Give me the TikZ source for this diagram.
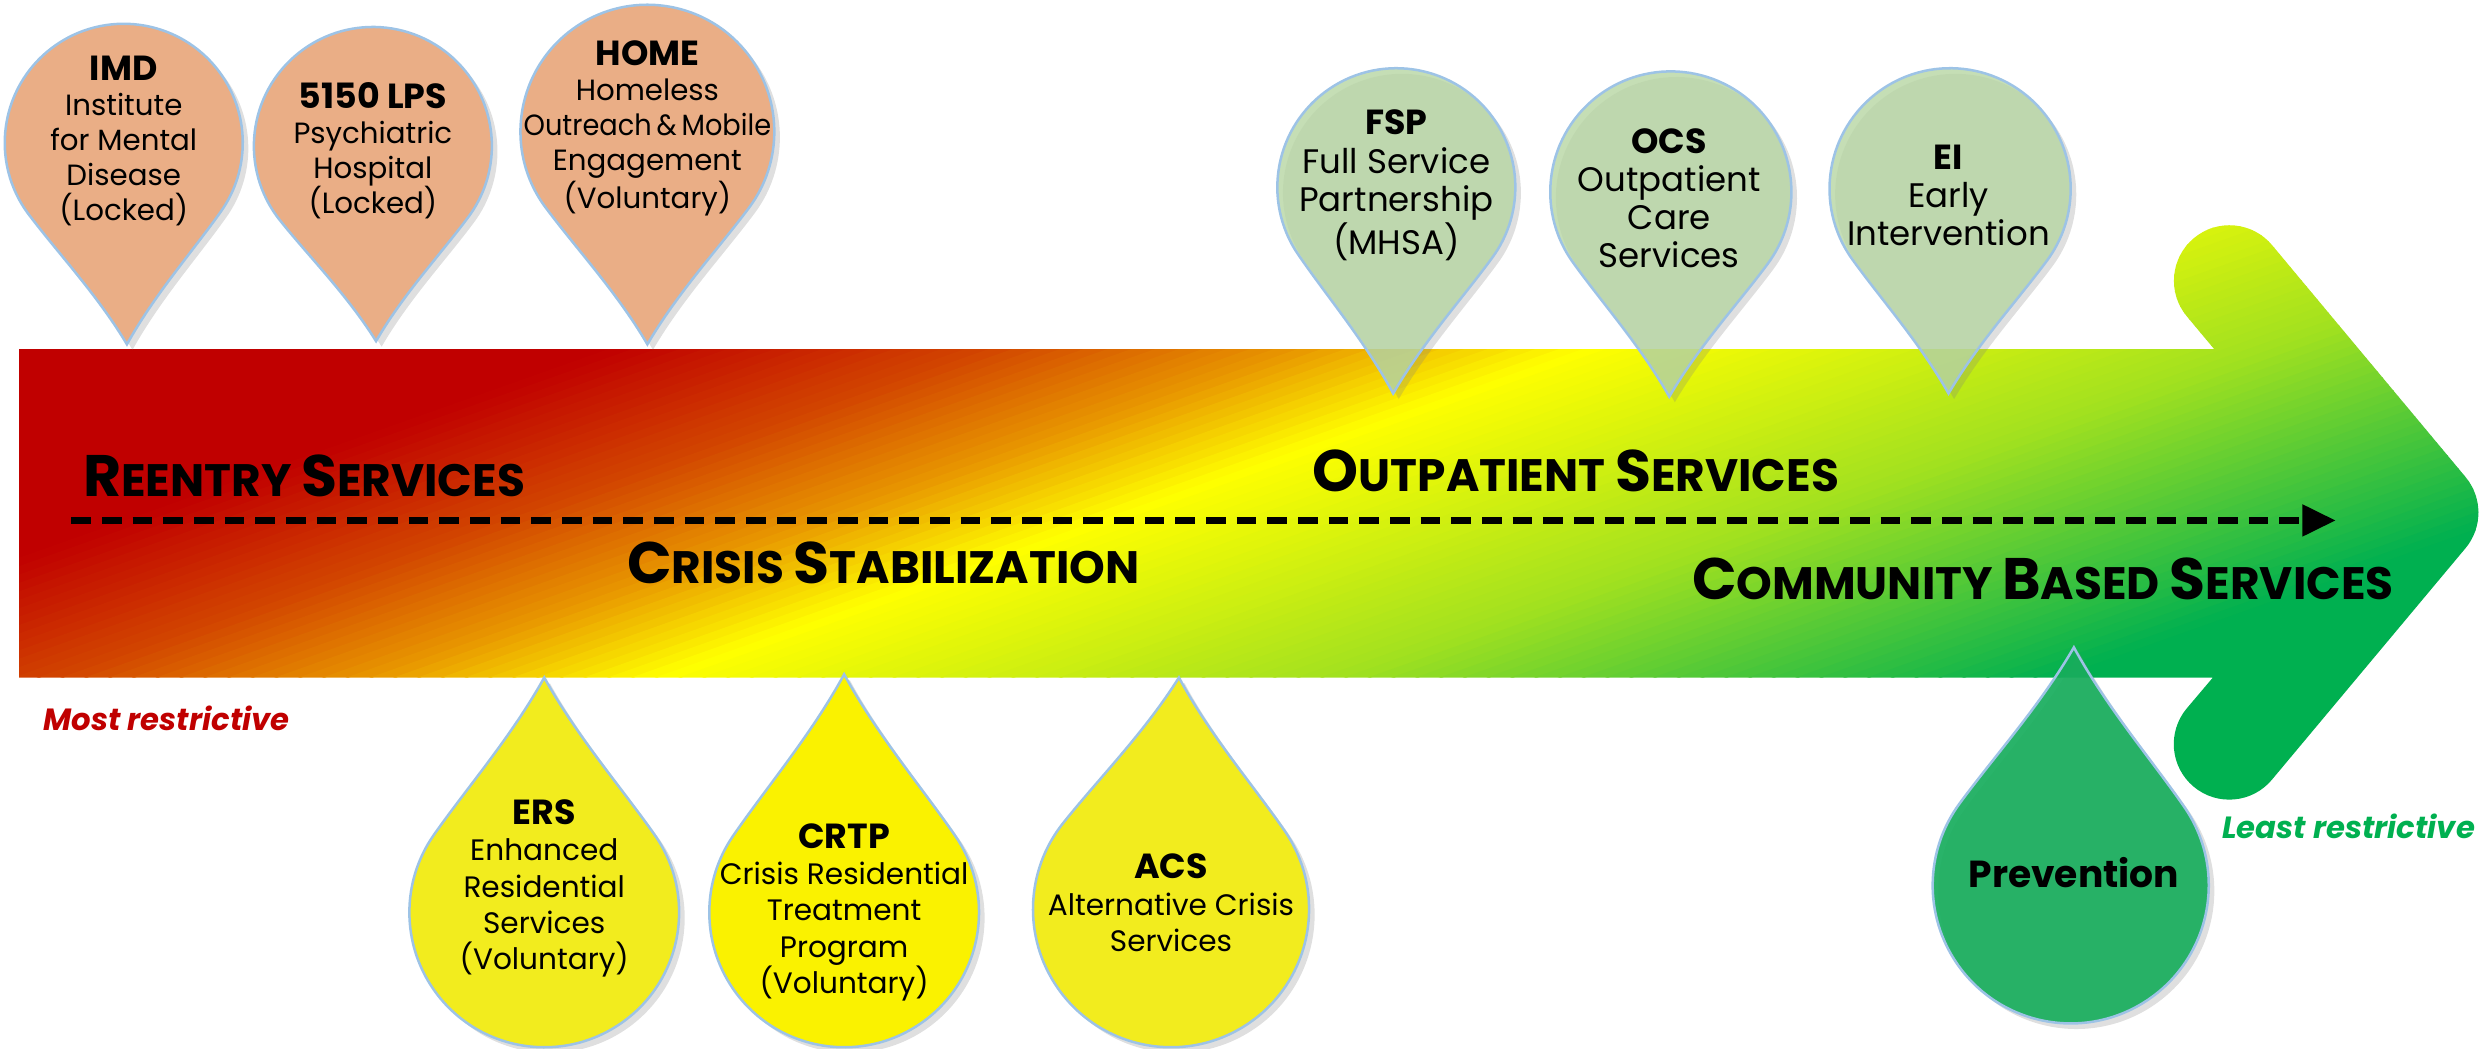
\documentclass[tikz,border=0pt]{standalone}
\usepackage{fontspec}
\setmainfont{Poppins}
\usetikzlibrary{arrows.meta,calc,shadows}

\definecolor{pinorange}{RGB}{234,174,134}
\definecolor{pingreen}{RGB}{183,214,163}
\definecolor{dropyellow}{RGB}{242,236,30}
\definecolor{dropbright}{RGB}{250,242,0}
\definecolor{dropgreen}{RGB}{23,173,92}
\definecolor{pinedge}{RGB}{157,195,230}
\definecolor{mostred}{RGB}{192,0,0}
\definecolor{leastgreen}{RGB}{0,176,80}
\definecolor{st0}{RGB}{192,0,0}
\definecolor{st1}{RGB}{210,70,0}
\definecolor{st2}{RGB}{232,150,0}
\definecolor{st3}{RGB}{255,255,0}
\definecolor{st4}{RGB}{160,224,32}
\definecolor{st5}{RGB}{0,176,80}

% round head with a pointed tip: style, centre x, centre y, radius, tip x, tip y
\newcommand{\teardrop}[6]{%
  \pgfmathsetmacro{\tdang}{atan2(#6-#3,#5-#2)}%
  \pgfmathsetmacro{\tdlen}{veclen(#5-#2,#6-#3)}%
  \pgfmathsetmacro{\tdspread}{acos(#4/\tdlen)}%
  \pgfmathsetmacro{\tdstart}{\tdang+\tdspread}%
  \pgfmathsetmacro{\tdend}{\tdang-\tdspread+360}%
  \coordinate (tdT1) at ($(#2,#3)+(\tdstart:#4)$);
  \coordinate (tdT2) at ($(#2,#3)+(\tdend:#4)$);
  \coordinate (tdM1) at ($(#2,#3)!0.85!(tdT1)$);
  \coordinate (tdM2) at ($(#2,#3)!0.85!(tdT2)$);
  \path[#1] (#5,#6) .. controls ($(#5,#6)!0.35!(tdM1)$) and ($(tdT1)!0.3!(#5,#6)$) .. (tdT1)
    arc[start angle=\tdstart, end angle=\tdend, radius=#4]
    .. controls ($(tdT2)!0.3!(#5,#6)$) and ($(#5,#6)!0.35!(tdM2)$) .. (#5,#6) -- cycle;}

\newcommand{\pintitle}[1]{{\fontsize{12.5}{12.6}\selectfont\bfseries #1}}
\newcommand{\scword}[2]{{\fontsize{21}{21}\selectfont #1}#2}

\begin{document}
\begin{tikzpicture}[x=0.02cm, y=-0.02cm,
    pinshape/.style={draw=pinedge, line width=0.9pt,
      drop shadow={shadow xshift=2pt, shadow yshift=-2pt, opacity=0.25}},
    orangetext/.style={align=center, inner sep=0pt, font=\fontsize{10.5}{12.6}\selectfont},
    greentext/.style={align=center, inner sep=0pt, font=\fontsize{12.2}{13.7}\selectfont},
    yellowtext/.style={align=center, inner sep=0pt, font=\fontsize{10.6}{13}\selectfont},
    band/.style={anchor=west, inner sep=0pt, font=\fontsize{16.3}{16.3}\selectfont\bfseries},
    side/.style={anchor=west, inner sep=0pt, font=\fontsize{11}{13}\selectfont\bfseries\itshape}]
\useasboundingbox (0,0) rectangle (1568,661);

% the big arrow
\begin{scope}
  \clip (12,220) -- (1395.4,220) -- (1378.2,199.4)
    arc[start angle=140.1, end angle=320.1, radius=35] -- (1553.8,300.6)
    arc[start angle=-39.9, end angle=39.9, radius=35] -- (1431.8,491.4)
    arc[start angle=39.9, end angle=219.9, radius=35] -- (1394.6,427)
    -- (12,427) -- cycle;
  \begin{scope}[shift={(700,320)}, rotate=19.5]
    \fill[st0] (-1000,-700) rectangle (1000,-199);
    \foreach \da/\db/\ca/\cb in {-200/-120/st0/st1, -120/-55/st1/st2,
        -55/5/st2/st3, 5/150/st3/st4, 150/300/st4/st5} {
      \pgfmathtruncatemacro{\nst}{(\db-\da)/5}
      \foreach \i in {1,...,\nst} {
        \pgfmathsetmacro{\dd}{\da+(\i-1)*5}
        \pgfmathtruncatemacro{\pc}{100*(\i-0.5)/\nst}
        \fill[\cb!\pc!\ca] (-1000,\dd) rectangle (1000,\dd+5.6);
      }
    }
    \fill[st5] (-1000,300) rectangle (1000,700);
  \end{scope}
\end{scope}

\coordinate (a0) at (45,328);
\coordinate (a1) at (1472,328);
\draw[line width=2.3pt, dash pattern=on 7pt off 4pt,
  -{Triangle[length=12pt,width=11pt]}] (a0) -- (a1);

\node[band] (reentry) at (52,300) {\scword{R}{EENTRY} \scword{S}{ERVICES}};
\node[band] (outpat) at (827,297) {\scword{O}{UTPATIENT} \scword{S}{ERVICES}};
\node[band] (crisis) at (395,355) {\scword{C}{RISIS} \scword{S}{TABILIZATION}};
\node[band] (community) at (1066,365) {\scword{C}{OMMUNITY} \scword{B}{ASED} \scword{S}{ERVICES}};

\node[side, text=mostred] (most) at (27,453) {Most restrictive};
\node[side, text=leastgreen] (least) at (1400,521) {Least restrictive};

% pins above
\teardrop{pinshape, fill=pinorange}{78}{90}{75}{80}{217}
\teardrop{pinshape, fill=pinorange}{235}{92}{75}{237}{215}
\teardrop{pinshape, fill=pinorange}{408}{83}{80}{408}{217}
\teardrop{pinshape, fill=pingreen, fill opacity=0.8}{880}{118}{75}{878}{248}
\teardrop{pinshape, fill=pingreen, fill opacity=0.8}{1053}{121}{76}{1052}{250}
\teardrop{pinshape, fill=pingreen, fill opacity=0.8}{1229}{119}{76}{1228}{248}

\node[orangetext] (imd) at (78,89) {\pintitle{IMD}\\Institute\\for Mental\\Disease\\(Locked)};
\node[orangetext] (lps) at (235,95) {\pintitle{5150 LPS}\\Psychiatric\\Hospital\\(Locked)};
\node[orangetext] (home) at (408,81) {\pintitle{HOME}\\Homeless\\{\addfontfeature{FakeStretch=0.93}Outreach\,\&\,Mobile}\\Engagement\\(Voluntary)};
\node[greentext] (fsp) at (880,117) {\pintitle{FSP}\\Full Service\\Partnership\\(MHSA)};
\node[greentext] (ocs) at (1052,125) {\pintitle{OCS}\\Outpatient\\Care\\Services};
\node[greentext] (ei) at (1228,123) {\pintitle{EI}\\Early\\Intervention};

% drops below
\teardrop{pinshape, fill=dropyellow}{343}{575}{85}{343}{427}
\teardrop{pinshape, fill=dropbright}{532}{575}{85}{532}{425}
\teardrop{pinshape, fill=dropyellow}{738}{573}{87}{743}{427}
\teardrop{pinshape, fill=dropgreen, fill opacity=0.92}{1305}{558}{87}{1307}{408}

\node[yellowtext] (ers) at (343,560) {\pintitle{ERS}\\Enhanced\\Residential\\Services\\(Voluntary)};
\node[yellowtext] (crtp) at (532,575) {\pintitle{CRTP}\\Crisis Residential\\Treatment\\Program\\(Voluntary)};
\node[yellowtext] (acs) at (738,569) {\pintitle{ACS}\\Alternative Crisis\\Services};
\node[font=\fontsize{13.5}{14}\selectfont\bfseries] (prev) at (1307,550) {Prevention};
\end{tikzpicture}
\end{document}
